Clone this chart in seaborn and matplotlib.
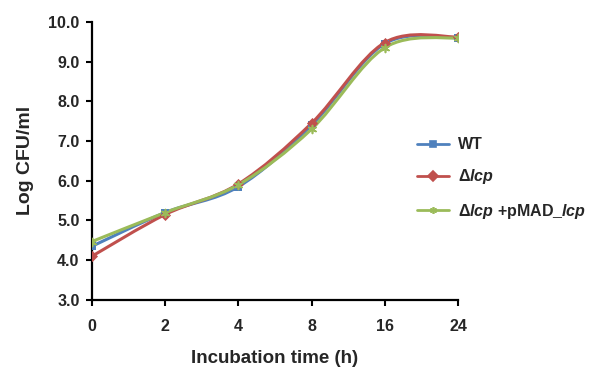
# Growth curves of WT, Δlcp and the complemented strain (log CFU/ml)

import numpy as np
import pandas as pd
import matplotlib
matplotlib.use("Agg")
import matplotlib.pyplot as plt
from matplotlib.path import Path
from matplotlib.patches import PathPatch
from matplotlib.lines import Line2D
import seaborn as sns

time_labels = ["0", "2", "4", "8", "16", "24"]
wt = [4.35, 5.20, 5.85, 7.40, 9.45, 9.60]
lcp = [4.10, 5.15, 5.92, 7.45, 9.48, 9.62]
comp = [4.47, 5.20, 5.90, 7.30, 9.35, 9.60]

names = ["WT", "Δ$\\it{lcp}$", "Δ$\\it{lcp}$ +pMAD_$\\it{lcp}$"]
colors = ["#4F81BD", "#C0504D", "#9BBB59"]
markers = ["s", "D", (6, 2, 0)]

df = pd.DataFrame({
    "time": time_labels * 3,
    "pos": list(range(len(time_labels))) * 3,
    "logcfu": wt + lcp + comp,
    "strain": [names[0]] * 6 + [names[1]] * 6 + [names[2]] * 6,
})

sns.set_style("white")
plt.rcParams["font.family"] = ["Liberation Sans", "DejaVu Sans"]
plt.rcParams["mathtext.fontset"] = "custom"
plt.rcParams["mathtext.it"] = "Liberation Sans:bold:italic"

fig = plt.figure(figsize=(6.05, 3.84), dpi=100)
ax = fig.add_axes([0.152, 0.219, 0.605, 0.724])


def smooth_path(xs, ys):
    # Excel-style smoothed line: Catmull-Rom segments as cubic Beziers
    pts = np.column_stack([xs, ys])
    verts = [pts[0]]
    codes = [Path.MOVETO]
    n = len(pts)
    for i in range(n - 1):
        p0 = pts[i - 1] if i > 0 else pts[i]
        p1, p2 = pts[i], pts[i + 1]
        p3 = pts[i + 2] if i + 2 < n else pts[i + 1]
        c1 = p1 + (p2 - p0) / 6
        c2 = p2 - (p3 - p1) / 6
        verts += [c1, c2, p2]
        codes += [Path.CURVE4] * 3
    return Path(verts, codes)


for name, color, marker in zip(names, colors, markers):
    sub = df[df["strain"] == name]
    ax.add_patch(PathPatch(smooth_path(sub["pos"].values, sub["logcfu"].values),
                           facecolor="none", edgecolor=color, lw=2.2, zorder=2))
    sns.scatterplot(data=sub, x="pos", y="logcfu", color=color, marker=marker,
                    s=32, linewidth=1.2 if marker == (6, 2, 0) else 0,
                    edgecolor=color, ax=ax, zorder=3, legend=False)

ax.set_xlim(0, 5)
ax.set_ylim(3, 10)
ax.set_xticks(range(len(time_labels)))
ax.set_xticklabels(time_labels)
ax.set_yticks(np.arange(3, 10.1, 1))
ax.set_yticklabels([f"{v:.1f}" for v in np.arange(3, 10.1, 1)])
for lab in ax.get_xticklabels() + ax.get_yticklabels():
    lab.set_fontweight("bold")
    lab.set_fontsize(11.5)
ax.tick_params(axis="both", direction="out", length=4, width=1.5, color="black",
               left=True, bottom=True, pad=5)
ax.tick_params(axis="x", pad=10)
ax.spines["top"].set_visible(False)
ax.spines["right"].set_visible(False)
for s in ["left", "bottom"]:
    ax.spines[s].set_linewidth(1.6)
    ax.spines[s].set_color("black")
ax.set_clip_on(False)

ax.set_xlabel("Incubation time (h)", fontsize=13.5, fontweight="bold", labelpad=11)
ax.set_ylabel("Log CFU/ml", fontsize=14, fontweight="bold", labelpad=10)

handles = [Line2D([0], [0], color=c, lw=2, marker=m, markersize=5,
                  markeredgewidth=1.2) for c, m in zip(colors, markers)]
fig.legend(handles, names, loc="upper left", bbox_to_anchor=(0.665, 0.68),
           frameon=False, prop={"weight": "bold", "size": 11.5},
           labelspacing=0.95, handlelength=2.0, handletextpad=0.6)

fig.savefig("out.png", dpi=100)
